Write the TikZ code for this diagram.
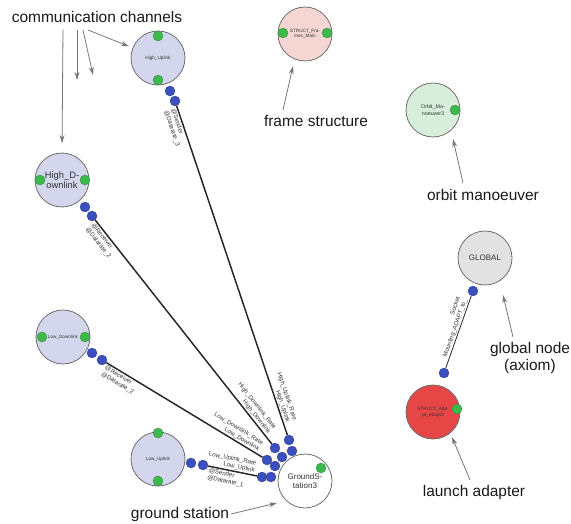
\documentclass[tikz,border=0pt]{standalone}
\usepackage{fontspec}
\setmainfont{Liberation Sans}
\usetikzlibrary{arrows.meta,calc}

\definecolor{chanfill}{HTML}{D3D6EC}
\definecolor{framefill}{HTML}{F6D6D2}
\definecolor{orbitfill}{HTML}{D7EEDB}
\definecolor{globalfill}{HTML}{E2E2E2}
\definecolor{adaptfill}{HTML}{E64646}
\definecolor{portgreen}{HTML}{3DB84A}
\definecolor{portblue}{HTML}{3C4FBF}
\definecolor{rimgray}{HTML}{6E6E6E}
\definecolor{pointergray}{HTML}{767676}

\tikzset{
  comp/.style={circle, draw=rimgray, line width=0.6pt, minimum size=40.5pt,
    inner sep=0pt, align=center, text=black!80, font=\fontsize{3.5}{4.2}\selectfont},
  gport/.style={circle, fill=portgreen, draw=portgreen!70!black, line width=0.2pt,
    minimum size=7.5pt, inner sep=0pt},
  bport/.style={circle, fill=portblue, draw=portblue!70!black, line width=0.2pt,
    minimum size=7.5pt, inner sep=0pt},
  link/.style={line width=1.1pt, black!85},
  elabel/.style={sloped, font=\fontsize{4.6}{5.4}\selectfont, inner sep=0.8pt, text=black!80},
  caption/.style={font=\fontsize{11.6}{13.2}\selectfont, text=black!90, align=center, inner sep=1pt},
  pointer/.style={draw=pointergray, line width=0.6pt, -{Stealth[length=6pt,width=3.6pt]}}
}

\begin{document}
\begin{tikzpicture}[x=0.75pt,y=-0.75pt]
\useasboundingbox (0,0) rectangle (571,524);

% ---- components ----
\node[comp, fill=chanfill] (hup) at (158,58) {High\_Uplink};
\node[comp, fill=chanfill, font=\fontsize{7}{8}\selectfont] (hdown) at (62,180) {High\_D-\\ownlink};
\node[comp, fill=chanfill] (ldown) at (63,337) {Low\_Downlink};
\node[comp, fill=chanfill] (lup) at (158,459) {Low\_Uplink};
\node[comp, fill=white, font=\fontsize{6}{7}\selectfont] (gs) at (305,481) {GroundS-\\tation3};
\node[comp, fill=framefill] (frame) at (305,34) {STRUCT\_Fra-\\mes\_Main};
\node[comp, fill=orbitfill, font=\fontsize{4}{4.8}\selectfont] (orbit) at (433,110) {Orbit\_Ma-\\noeuver3};
\node[comp, fill=globalfill, font=\fontsize{6}{7}\selectfont] (global) at (485,258) {GLOBAL};
\node[comp, fill=adaptfill] (adapt) at (433,412) {STRUCT\_Ada-\\pt\_Adapt3};

% ---- green ports ----
\node[gport] (hupT) at ($(hup)+(0,-22)$) {};
\node[gport] (hupD) at ($(hup)+(0,22)$) {};
\node[gport] (hdownL) at ($(hdown)+(-22,0)$) {};
\node[gport] (hdownR) at ($(hdown)+(23,0)$) {};
\node[gport] (ldownL) at ($(ldown)+(-21,0)$) {};
\node[gport] (ldownR) at ($(ldown)+(22,0)$) {};
\node[gport] (lupT) at ($(lup)+(0,-26)$) {};
\node[gport] (lupD) at ($(lup)+(0,22)$) {};
\node[gport] (gsP) at (321,468) {};
\node[gport] (frameL) at ($(frame)+(-22,-1)$) {};
\node[gport] (frameR) at ($(frame)+(22,-1)$) {};
\node[gport] (orbitP) at ($(orbit)+(22,0)$) {};
\node[gport] (adaptP) at ($(adapt)+(24,-3)$) {};

% ---- blue ports ----
\node[bport] (hupA) at (170,91) {};
\node[bport] (hupB) at (175,101) {};
\node[bport] (hdownA) at (85,207) {};
\node[bport] (hdownB) at (92,216) {};
\node[bport] (ldownA) at (92,353) {};
\node[bport] (ldownB) at (102,360) {};
\node[bport] (lupA) at (191,463) {};
\node[bport] (lupB) at (203,465) {};
\node[bport] (gs1) at (289,440) {};
\node[bport] (gs2) at (292,451) {};
\node[bport] (gs3) at (275,448) {};
\node[bport] (gs4) at (282,457) {};
\node[bport] (gs5) at (267,460) {};
\node[bport] (gs6) at (275,466) {};
\node[bport] (gs7) at (262,477) {};
\node[bport] (gs8) at (271,477) {};
\node[bport] (globalP) at (473,291) {};
\node[bport] (adaptB) at (444,373) {};

% ---- links ----
\draw[link] (hupB) -- (gs1)
  node[elabel, pos=0, anchor=north west, align=left] {@Sender\\@Datarate\_3}
  node[elabel, pos=0.97, anchor=south east, align=right] {High\_Uplink\_Rate\hspace{12pt}\\High\_Uplink};
\draw[link] (hdownB) -- (gs3)
  node[elabel, pos=0, anchor=north west, align=left] {@Receiver\\@Datarate\_2}
  node[elabel, pos=0.97, anchor=south east, align=right] {High\_Downlink\_Rate\hspace{10pt}\\High\_Downlink};
\draw[link] (ldownB) -- (gs5)
  node[elabel, pos=0, anchor=north west, align=left] {@Receiver\\@Datarate\_2}
  node[elabel, pos=0.97, anchor=south east, align=right] {Low\_Downlink\_Rate\hspace{8pt}\\Low\_Downlink};
\draw[link] (lupB) -- (gs7)
  node[elabel, pos=0, anchor=north west, align=left] {@Sender\\@Datarate\_1}
  node[elabel, pos=0.97, anchor=south east, align=right] {Low\_Uplink\_Rate\hspace{6pt}\\Low\_Uplink};
\draw[link, line width=0.6pt] (adaptB) -- (globalP)
  node[elabel, pos=0.95, anchor=south east, align=right] {Socket\hspace{6pt}\\Mounting\_ADAPT\_to\_};

% ---- captions ----
\node[caption] (cc) at (97,17) {communication channels};
\node[caption] (fs) at (316,121) {frame structure};
\node[caption] (om) at (483,195) {orbit manoeuver};
\node[caption] (gn) at (530,358) {global node\\(axiom)};
\node[caption] (la) at (474,492) {launch adapter};
\node[caption] (gst) at (180,514) {ground station};

% ---- pointers ----
\coordinate (cc1) at (63,30);
\coordinate (cc2) at (77,30);
\coordinate (cc3) at (83,30);
\coordinate (cc4) at (88,30);
\coordinate (cc2e) at (77,80);
\coordinate (cc3e) at (93,75);
\draw[pointer, shorten >=7pt] (cc1) -- (hdown.north);
\draw[pointer] (cc2) -- (cc2e);
\draw[pointer] (cc3) -- (cc3e);
\draw[pointer, shorten >=3pt] (cc4) -- (hup);

\coordinate (fsT) at (283,110);
\coordinate (fsH) at (293,66);
\draw[pointer] (fsT) -- (fsH);
\coordinate (omT) at (463,183);
\coordinate (omH) at (453,139);
\draw[pointer] (omT) -- (omH);
\coordinate (gnT) at (513,337);
\coordinate (gnH) at (503,295);
\draw[pointer] (gnT) -- (gnH);
\coordinate (laT) at (470,480);
\coordinate (laH) at (452,437);
\draw[pointer] (laT) -- (laH);
\coordinate (gstT) at (231,514);
\coordinate (gstH) at (277,503);
\draw[pointer] (gstT) -- (gstH);
\end{tikzpicture}
\end{document}
